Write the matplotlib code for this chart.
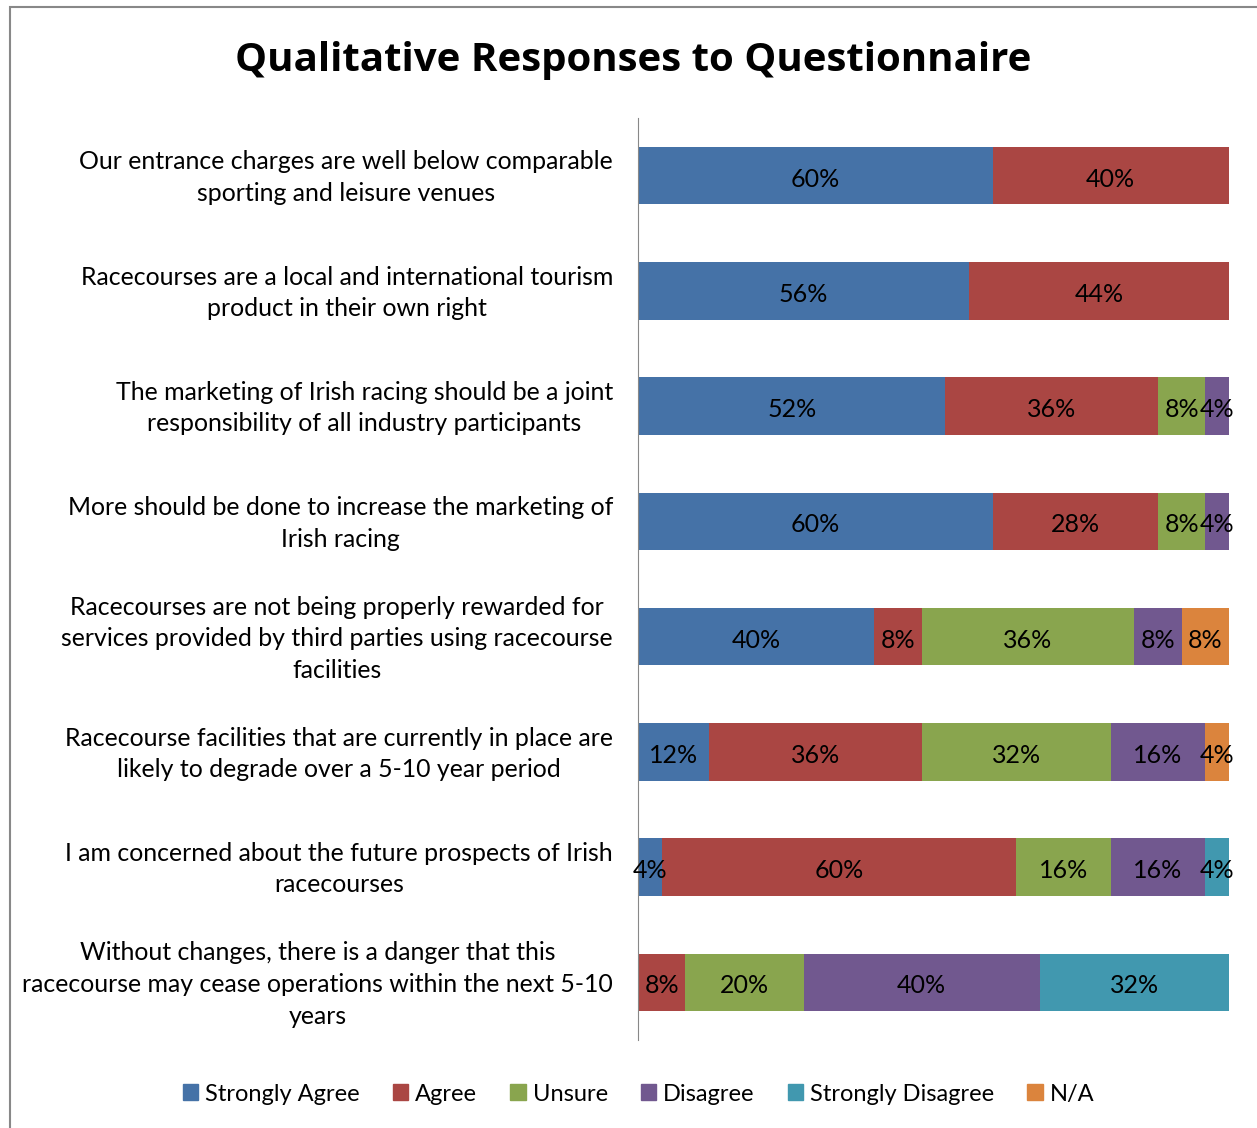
import matplotlib.pyplot as plt
from matplotlib.patches import Rectangle
from matplotlib.transforms import ScaledTranslation
import numpy as np

questions = [
    "Our entrance charges are well below comparable\nsporting and leisure venues",
    "Racecourses are a local and international tourism\nproduct in their own right",
    "The marketing of Irish racing should be a joint\nresponsibility of all industry participants",
    "More should be done to increase the marketing of\nIrish racing",
    "Racecourses are not being properly rewarded for\nservices provided by third parties using racecourse\nfacilities",
    "Racecourse facilities that are currently in place are\nlikely to degrade over a 5-10 year period",
    "I am concerned about the future prospects of Irish\nracecourses",
    "Without changes, there is a danger that this\nracecourse may cease operations within the next 5-10\nyears",
]
responses = ["Strongly Agree", "Agree", "Unsure", "Disagree", "Strongly Disagree", "N/A"]
strongly_agree = [60, 56, 52, 60, 40, 12, 4, 0]
agree = [40, 44, 36, 28, 8, 36, 60, 8]
unsure = [0, 0, 8, 8, 36, 32, 16, 20]
disagree = [0, 0, 4, 4, 8, 16, 16, 40]
strongly_disagree = [0, 0, 0, 0, 0, 0, 4, 32]
not_applicable = [0, 0, 0, 0, 8, 4, 0, 0]
colors = ["#4572A7", "#AA4643", "#89A54E", "#71588F", "#4198AF", "#DB843D"]

series = [strongly_agree, agree, unsure, disagree, strongly_disagree, not_applicable]

plt.rcParams['font.family'] = ['Lato', 'DejaVu Sans']

fig = plt.figure(figsize=(12.57, 11.28), dpi=100)
ax = fig.add_axes([0.5076, 0.078, 0.4701, 0.8174])

y = np.arange(len(questions))
left = np.zeros(len(questions))
for name, vals, col in zip(responses, series, colors):
    vals = np.array(vals, dtype=float)
    ax.barh(y, vals, left=left, height=0.5, color=col, label=name)
    for yi, v, l in zip(y, vals, left):
        if v > 0:
            ax.annotate(f"{int(v)}%", (l + v / 2, yi), xytext=(0, -2.5),
                        textcoords='offset points', ha='center', va='center',
                        fontsize=18, color='black')
    left += vals

ax.set_xlim(0, 100)
ax.set_ylim(len(questions) - 0.5, -0.5)
ax.set_yticks(y)
ax.set_yticklabels(questions, fontsize=17.9, ha='right', multialignment='center',
                   linespacing=1.45, va='center')
ax.tick_params(axis='y', length=0, pad=18)
# nudge the question text down a touch so it sits level with the bars
for lab in ax.get_yticklabels():
    lab.set_transform(lab.get_transform() + ScaledTranslation(0, -1.5 / 72, fig.dpi_scale_trans))
ax.set_xticks([])
for s in ['top', 'right', 'bottom']:
    ax.spines[s].set_visible(False)
ax.spines['left'].set_color('#888888')

fig.text(0.504, 0.946, "Qualitative Responses to Questionnaire", ha='center',
         va='center', fontsize=29, fontweight='bold', family='Open Sans')

handles = [Rectangle((0, 0), 1, 1, color=c) for c in colors]
fig.legend(handles, responses, loc='center', bbox_to_anchor=(0.508, 0.03), ncol=6,
           frameon=False, fontsize=17, handlelength=0.65, handleheight=0.65,
           handletextpad=0.3, columnspacing=1.4)

# outer frame
fig.add_artist(Rectangle((0.008, -0.01), 1.1, 1 - 0.006 + 0.01, transform=fig.transFigure,
                         fill=False, edgecolor='#888888', linewidth=1.5))

fig.savefig("out.png", dpi=100)
